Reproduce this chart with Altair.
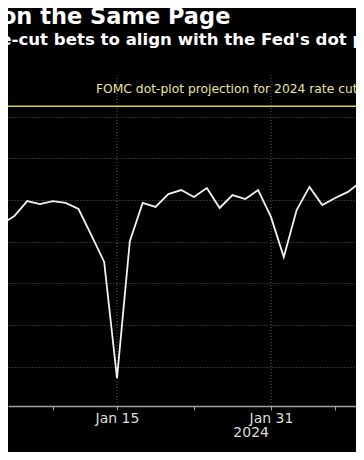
import altair as alt
import pandas as pd

# Trading days shown (weekdays), and market-implied 2024 easing (bp, negative = cuts)
dates = ["Dec 29", "Jan 2", "Jan 3", "Jan 4", "Jan 5", "Jan 8", "Jan 9", "Jan 10", "Jan 11",
         "Jan 12", "Jan 15", "Jan 16", "Jan 17", "Jan 18", "Jan 19", "Jan 22", "Jan 23",
         "Jan 24", "Jan 25", "Jan 26", "Jan 29", "Jan 30", "Jan 31", "Feb 1", "Feb 2",
         "Feb 5", "Feb 6", "Feb 7", "Feb 8", "Feb 9", "Feb 12"]
implied_bp = [-140.0, -131.5, -127.7, -120.5, -121.9, -120.5, -121.4, -124.3, -136.8,
              -149.7, -205.4, -139.7, -121.4, -123.3, -117.1, -115.2, -118.5,
              -114.2, -123.8, -117.6, -119.5, -115.2, -128.1, -147.3, -124.8,
              -113.7, -122.4, -119.0, -116.1, -111.3, -111.0]
tick_dates = ["Jan 8", "Jan 15", "Jan 23", "Jan 31", "Feb 7"]
grid_dates = ["Jan 15", "Jan 31"]
year_label = "2024"
year_label_date = "Jan 31"
y_grid_values = [-200, -180, -160, -140, -120, -100, -80]
fomc_projection_bp = -75
fomc_label = "FOMC dot-plot projection for 2024 rate cuts"
title_text = "Not on the Same Page"
subtitle_text = "rate-cut bets to align with the Fed's dot plot"

idx = {d: i - 1 for i, d in enumerate(dates)}
df = pd.DataFrame({"t": [idx[d] for d in dates], "v": implied_bp, "date": dates})
ticks_df = pd.DataFrame({"t": [idx[d] for d in tick_dates], "date": tick_dates})
grid_df = pd.DataFrame({"t": [idx[d] for d in grid_dates]})
fomc_df = pd.DataFrame({"v": [fomc_projection_bp], "label": [fomc_label]})
year_df = pd.DataFrame({"t": [idx[year_label_date]], "label": [year_label]})
title_df = pd.DataFrame({"a": [0]})

label_expr = " : ".join(
    [f"datum.value == {idx[d]} ? '{d}'" for d in grid_dates]) + " : ''"

xs = alt.Scale(domain=[0.505, 27.627], nice=False, zero=False)
ys = alt.Scale(domain=[-218.8, -60], nice=False, zero=False)

line = alt.Chart(df).mark_line(color="#f2f2f2", strokeWidth=1.8, clip=True).encode(
    x=alt.X("t:Q", scale=xs, title=None,
            axis=alt.Axis(values=[idx[d] for d in tick_dates], grid=False,
                          labelExpr=label_expr, domainColor="#a0a0a0", domainWidth=1.5,
                          tickColor="#a0a0a0", tickSize=4, tickWidth=1,
                          labelColor="#dcdcdc", labelFont="DejaVu Sans", labelFontSize=14,
                          labelPadding=1)),
    y=alt.Y("v:Q", scale=ys, title=None,
            axis=alt.Axis(values=y_grid_values, grid=True, gridColor="#5a5a5a",
                          gridDash=[1, 2], gridWidth=1, labels=False, ticks=False,
                          domain=False)),
)

vgrid = alt.Chart(grid_df).mark_rule(color="#5a5a5a", strokeDash=[1, 2], strokeWidth=1).encode(
    x=alt.X("t:Q", scale=xs))

fomc_rule = alt.Chart(fomc_df).mark_rule(color="#e0cf3c", strokeWidth=1.6).encode(
    y=alt.Y("v:Q", scale=ys))

fomc_text = alt.Chart(fomc_df).mark_text(
    align="left", baseline="alphabetic", dy=-13, color="#ede39a",
    font="DejaVu Sans", fontSize=12.3).encode(
    x=alt.value(88), y=alt.Y("v:Q", scale=ys), text="label:N")

year_text = alt.Chart(year_df).mark_text(
    align="right", baseline="alphabetic", dx=-2, color="#dcdcdc",
    font="DejaVu Sans", fontSize=14).encode(
    x=alt.X("t:Q", scale=xs), y=alt.value(362), text="label:N")

title = alt.Chart(title_df).mark_text(
    align="left", baseline="alphabetic", color="#ffffff", font="DejaVu Sans",
    fontSize=22.5, fontWeight="bold").encode(
    x=alt.value(-60), y=alt.value(-51), text=alt.value(title_text))

subtitle = alt.Chart(title_df).mark_text(
    align="left", baseline="alphabetic", color="#ffffff", font="DejaVu Sans",
    fontSize=16.6, fontWeight="bold").encode(
    x=alt.value(-35), y=alt.value(-30), text=alt.value(subtitle_text))

chart = alt.layer(vgrid, line, fomc_rule, fomc_text, year_text, title, subtitle).properties(
    width=348, height=331, background="#000000",
    autosize=alt.AutoSizeParams(type="none"),
    padding={"left": 0, "top": 67, "right": 0, "bottom": 46},
).configure_view(stroke=None)

chart.save("out.html", embed_options={"renderer": "svg", "actions": False})
